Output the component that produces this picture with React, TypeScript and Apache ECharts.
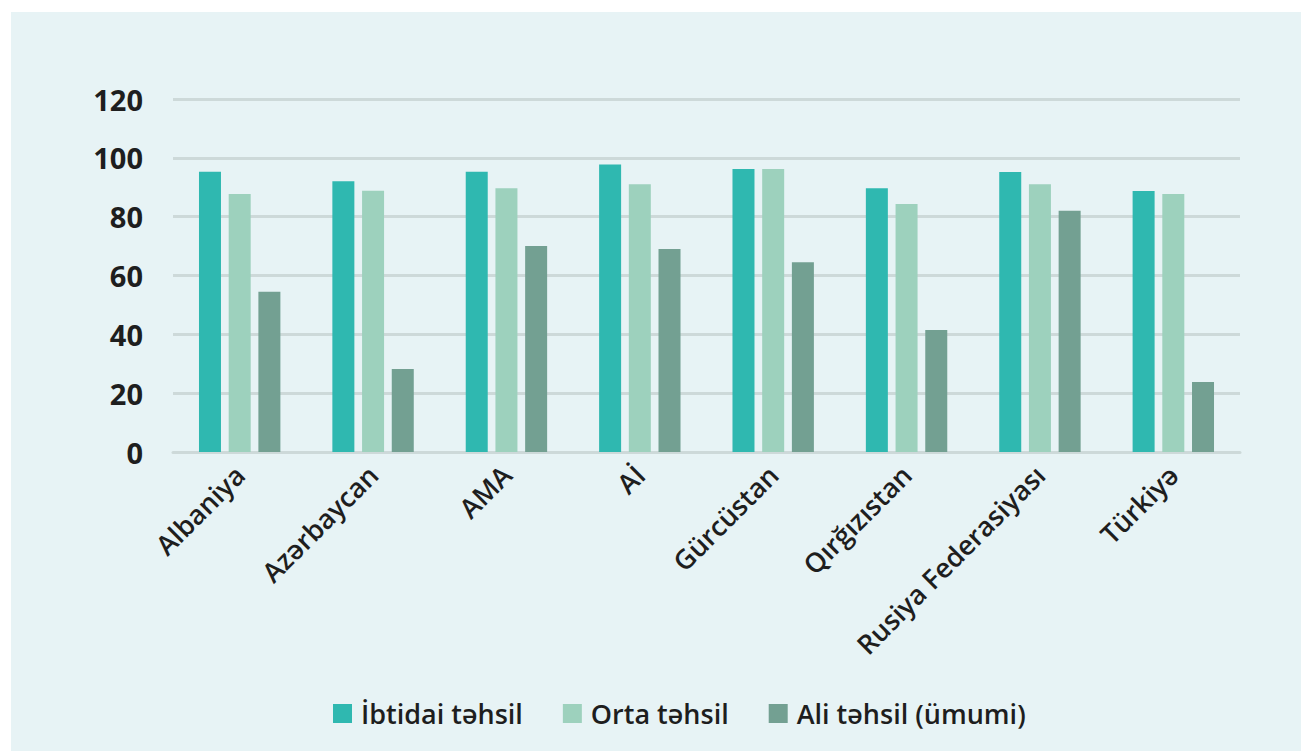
import React, { useEffect, useRef } from "react";
import * as echarts from "echarts";

const categories = ["Albaniya", "Azərbaycan", "AMA", "Aİ", "Gürcüstan", "Qırğızıstan", "Rusiya Federasiyası", "Türkiyə"];
const seriesNames = ["İbtidai təhsil", "Orta təhsil", "Ali təhsil (ümumi)"];
const primary = [95.3, 92.0, 95.3, 97.7, 96.2, 89.7, 95.2, 88.7];
const secondary = [87.7, 88.8, 89.7, 91.0, 96.2, 84.3, 91.0, 87.7];
const tertiary = [54.5, 28.2, 70.0, 69.0, 64.5, 41.5, 82.0, 23.8];
const colors = ["#2fb8b0", "#9dd1bd", "#73a092"];
const yTicks = { min: 0, max: 120, interval: 20 };

export default function App() {
  const ref = useRef<HTMLDivElement>(null);
  useEffect(() => {
    if (!ref.current) return;
    const chart = echarts.init(ref.current, null, { renderer: "svg" });
    const data = [primary, secondary, tertiary];
    chart.setOption({
      animation: false,
      backgroundColor: "#ffffff",
      graphic: [
        { type: "rect", z: -10, silent: true, shape: { x: 11, y: 12, width: 1290, height: 739 }, style: { fill: "#e7f3f5" } },
      ],
      grid: { left: 173, right: 61, top: 99, bottom: 299, containLabel: false },
      legend: {
        left: 328,
        top: 695,
        itemWidth: 19,
        itemHeight: 19,
        itemGap: 40,
        icon: "rect",
        textStyle: { fontFamily: "Open Sans", fontSize: 27, fontWeight: 600, color: "#1e1e1e", padding: [0, 0, 0, 4] },
        data: seriesNames,
      },
      xAxis: {
        type: "category",
        data: categories,
        axisTick: { show: false },
        axisLine: { lineStyle: { color: "#cdd9d9", width: 3 } },
        axisLabel: {
          rotate: 45,
          interval: 0,
          margin: 18,
          fontFamily: "Open Sans",
          fontSize: 27,
          fontWeight: 600,
          color: "#1e1e1e",
        },
      },
      yAxis: {
        type: "value",
        min: yTicks.min,
        max: yTicks.max,
        interval: yTicks.interval,
        axisLine: { show: false },
        axisTick: { show: false },
        splitLine: { lineStyle: { color: "#cdd9d9", width: 3 } },
        axisLabel: {
          margin: 30,
          fontFamily: "Open Sans",
          fontSize: 29,
          fontWeight: 700,
          color: "#1e1e1e",
        },
      },
      series: seriesNames.map((name, i) => ({
        name,
        type: "bar",
        data: data[i],
        barWidth: 22,
        barGap: "35%",
        itemStyle: { color: colors[i] },
      })),
    });
    return () => chart.dispose();
  }, []);
  return <div ref={ref} style={{ position: "fixed", left: 0, top: 0, width: 1301, height: 751 }} />;
}
